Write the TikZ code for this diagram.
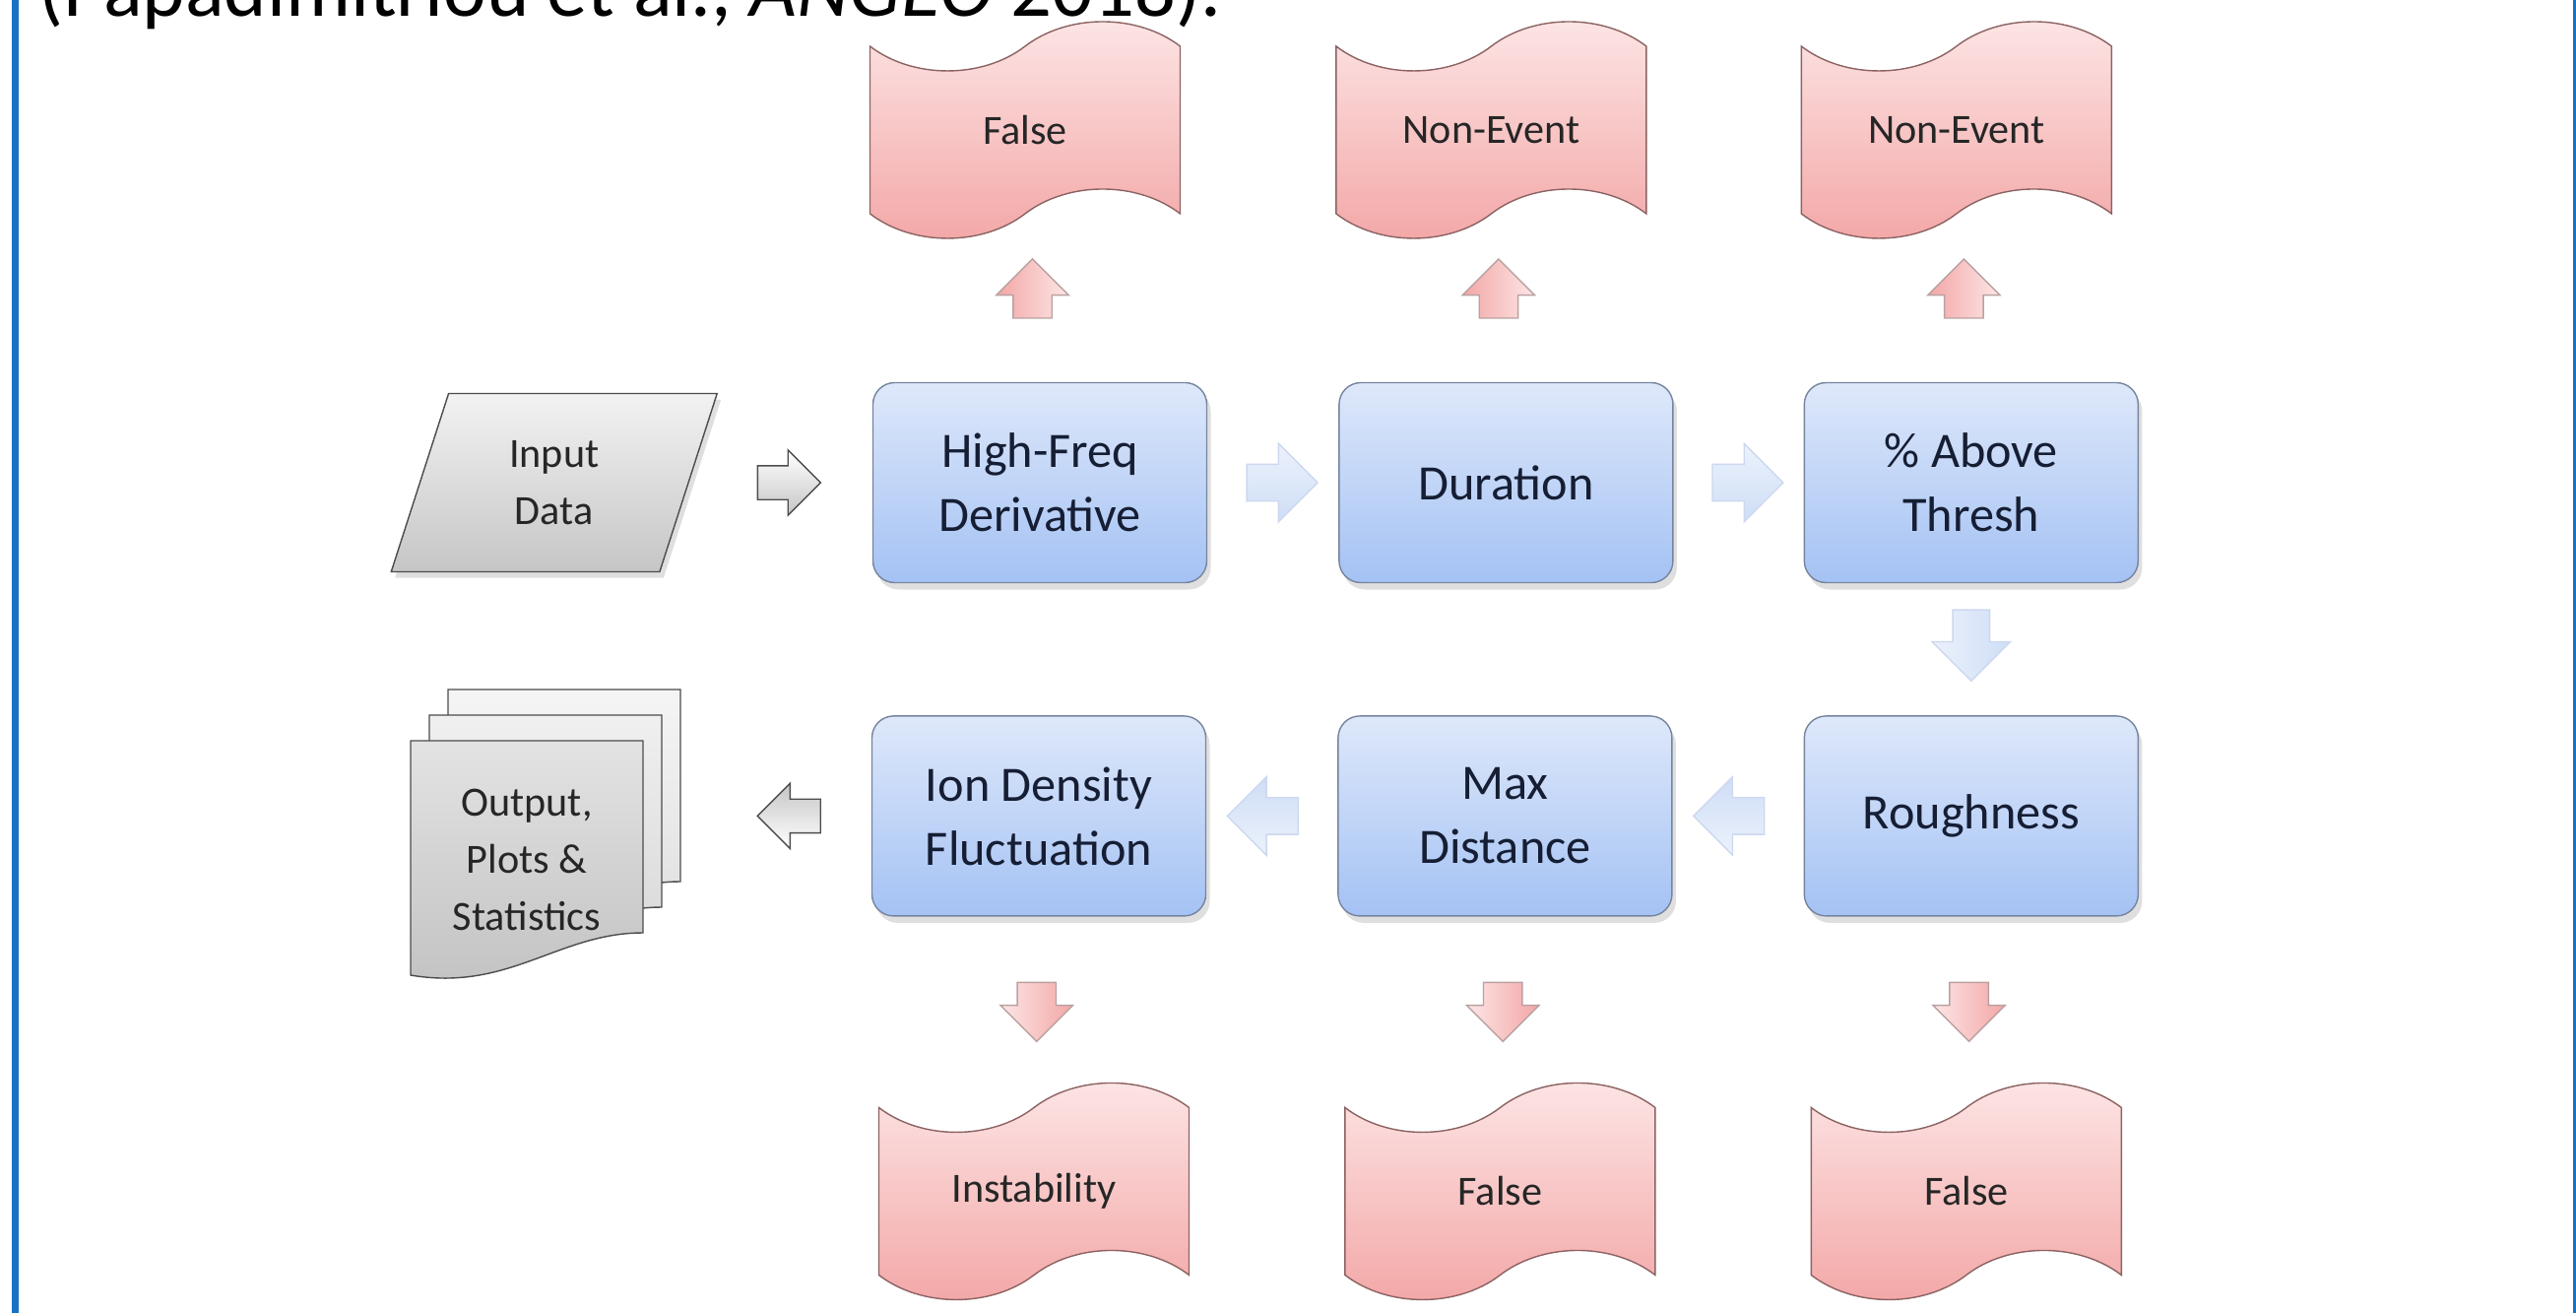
\documentclass[tikz,border=0pt]{standalone}
\usepackage{fontspec}
\setmainfont{Carlito}
\usepackage{tikz}
\usetikzlibrary{shapes.geometric, shapes.symbols, shapes.arrows, positioning, calc, shadows}

\definecolor{frameblue}{RGB}{24,115,196}
\definecolor{boxtop}{RGB}{222,232,250}
\definecolor{boxbot}{RGB}{164,194,244}
\definecolor{boxline}{RGB}{118,132,158}
\definecolor{boxtext}{RGB}{22,30,52}
\definecolor{pinktop}{RGB}{253,230,230}
\definecolor{pinkbot}{RGB}{243,166,166}
\definecolor{pinkline}{RGB}{140,98,98}
\definecolor{flowtop}{RGB}{236,242,252}
\definecolor{flowbot}{RGB}{206,221,246}
\definecolor{flowline}{RGB}{204,216,238}

\begin{document}
\begin{tikzpicture}[
    node distance=1.33cm and 1.33cm,
    every node/.style={font=\fontsize{12}{16.5}\selectfont, text=black!85},
    proc/.style={rectangle, rounded corners=0.22cm, draw=boxline, thin, top color=boxtop, bottom color=boxbot, minimum width=3.39cm, minimum height=2.03cm, align=center, text=boxtext, font=\fontsize{14.3}{18.5}\selectfont, drop shadow={shadow xshift=0.04cm, shadow yshift=-0.07cm, opacity=0.25}},
    outcome/.style={tape, draw=pinkline, thin, top color=pinktop, bottom color=pinkbot, minimum width=3.15cm, minimum height=2.2cm, tape bend height=0.5cm, align=center},
    datain/.style={trapezium, trapezium left angle=74, trapezium right angle=106, trapezium stretches=true, draw=black!70, top color=gray!10, bottom color=gray!45, minimum width=3.32cm, minimum height=1.81cm, align=center, drop shadow={shadow xshift=0.04cm, shadow yshift=-0.06cm, opacity=0.25}},
    flow/.style={single arrow, draw=flowline, top color=flowtop, bottom color=flowbot, inner sep=0pt, text height=0.18cm, text depth=0.18cm, single arrow head extend=0.21cm, minimum height=0.72cm},
    exit/.style={flow, draw=pinkline!60, top color=pinktop, bottom color=pinkbot, minimum height=0.6cm, text height=0.19cm, text depth=0.19cm, single arrow head extend=0.17cm},
    io/.style={flow, draw=black!70, top color=white, bottom color=gray!45, minimum height=0.64cm, text height=0.165cm, text depth=0.165cm, single arrow head extend=0.16cm}
]
\path[use as bounding box, clip] (0,0) rectangle (26.16,-13.33);

% --- slide remains ---
\node[anchor=base west, font=\fontsize{23.5}{28}\selectfont, text=black] (cite) at (0.27,-0.16) {(Papadimitriou et al., \textit{ANGEO} 2018).};
\fill[frameblue] (0.12,0) rectangle (0.19,-13.33);
\fill[frameblue] (26.13,0) rectangle (26.16,-13.33);

% --- processing chain ---
\node[proc] (hfd) at (10.56,-4.90) {High-Freq\\Derivative};
\node[proc, right=of hfd]         (dur)   {Duration};
\node[proc, right=1.32cm of dur]  (thr)   {\% Above\\Thresh};
\node[proc, below=1.34cm of thr]  (rough) {Roughness};
\node[proc, left=of rough]        (maxd)  {Max\\Distance};
\node[proc, left=of maxd]         (ion)   {Ion Density\\Fluctuation};

% --- input / output ---
\node[datain, left=1.86cm of hfd] (inp) {Input\\Data};
\foreach \dx/\dy/\lo/\hi in {0.38/0.52/8/26, 0.19/0.26/12/32, 0/0/22/48} {
    \draw[draw=black!70, top color=gray!\lo, bottom color=gray!\hi, shift={(4.17+\dx,-7.52+\dy)}]
        (0,0) -- (2.36,0) -- (2.36,-1.95) .. controls (1.5,-1.95) and (1.0,-2.55) .. (0,-2.38) -- cycle;
}
\node[align=center] (outp) at (5.35,-8.73) {Output,\\Plots \&\\Statistics};

% --- rejected outcomes ---
\node[outcome, above=1.7cm of hfd, xshift=-0.15cm] (f1)  {False};
\node[outcome, above=1.7cm of dur, xshift=-0.15cm] (ne1) {Non-Event};
\node[outcome, above=1.7cm of thr, xshift=-0.15cm] (ne2) {Non-Event};
\node[outcome, below=1.93cm of ion,  xshift=-0.05cm] (inst) {Instability};
\node[outcome, below=1.93cm of maxd, xshift=-0.05cm] (f2)   {False};
\node[outcome, below=1.93cm of rough,xshift=-0.05cm] (f3)   {False};

% --- block arrows ---
\node[io] (a0) at ($(inp.east)!0.5!(hfd.west)$) {};
\node[flow] (a1) at ($(hfd.east)!0.5!(dur.west)$) {};
\node[flow] (a2) at ($(dur.east)!0.5!(thr.west)$) {};
\node[flow, rotate=-90, shading angle=90] (a3) at ($(thr.south)!0.4!(rough.north)$) {};
\node[flow, rotate=180, shading angle=180] (a4) at ($(rough.west)!0.5!(maxd.east)$) {};
\node[flow, rotate=180, shading angle=180] (a5) at ($(maxd.west)!0.5!(ion.east)$) {};
\node[io, rotate=180, shading angle=180] (a6) at ($(ion.west)+(-0.75,0)$) {};

\node[exit, rotate=90, shading angle=-90] (u1) at ($(hfd.north)!0.5!(f1.south)$) {};
\node[exit, rotate=90, shading angle=-90] (u2) at ($(dur.north)!0.5!(ne1.south)$) {};
\node[exit, rotate=90, shading angle=-90] (u3) at ($(thr.north)!0.5!(ne2.south)$) {};
\node[exit, rotate=-90, shading angle=90] (d1) at ($(ion.south)!0.45!(inst.north)$) {};
\node[exit, rotate=-90, shading angle=90] (d2) at ($(maxd.south)!0.45!(f2.north)$) {};
\node[exit, rotate=-90, shading angle=90] (d3) at ($(rough.south)!0.45!(f3.north)$) {};
\end{tikzpicture}
\end{document}
